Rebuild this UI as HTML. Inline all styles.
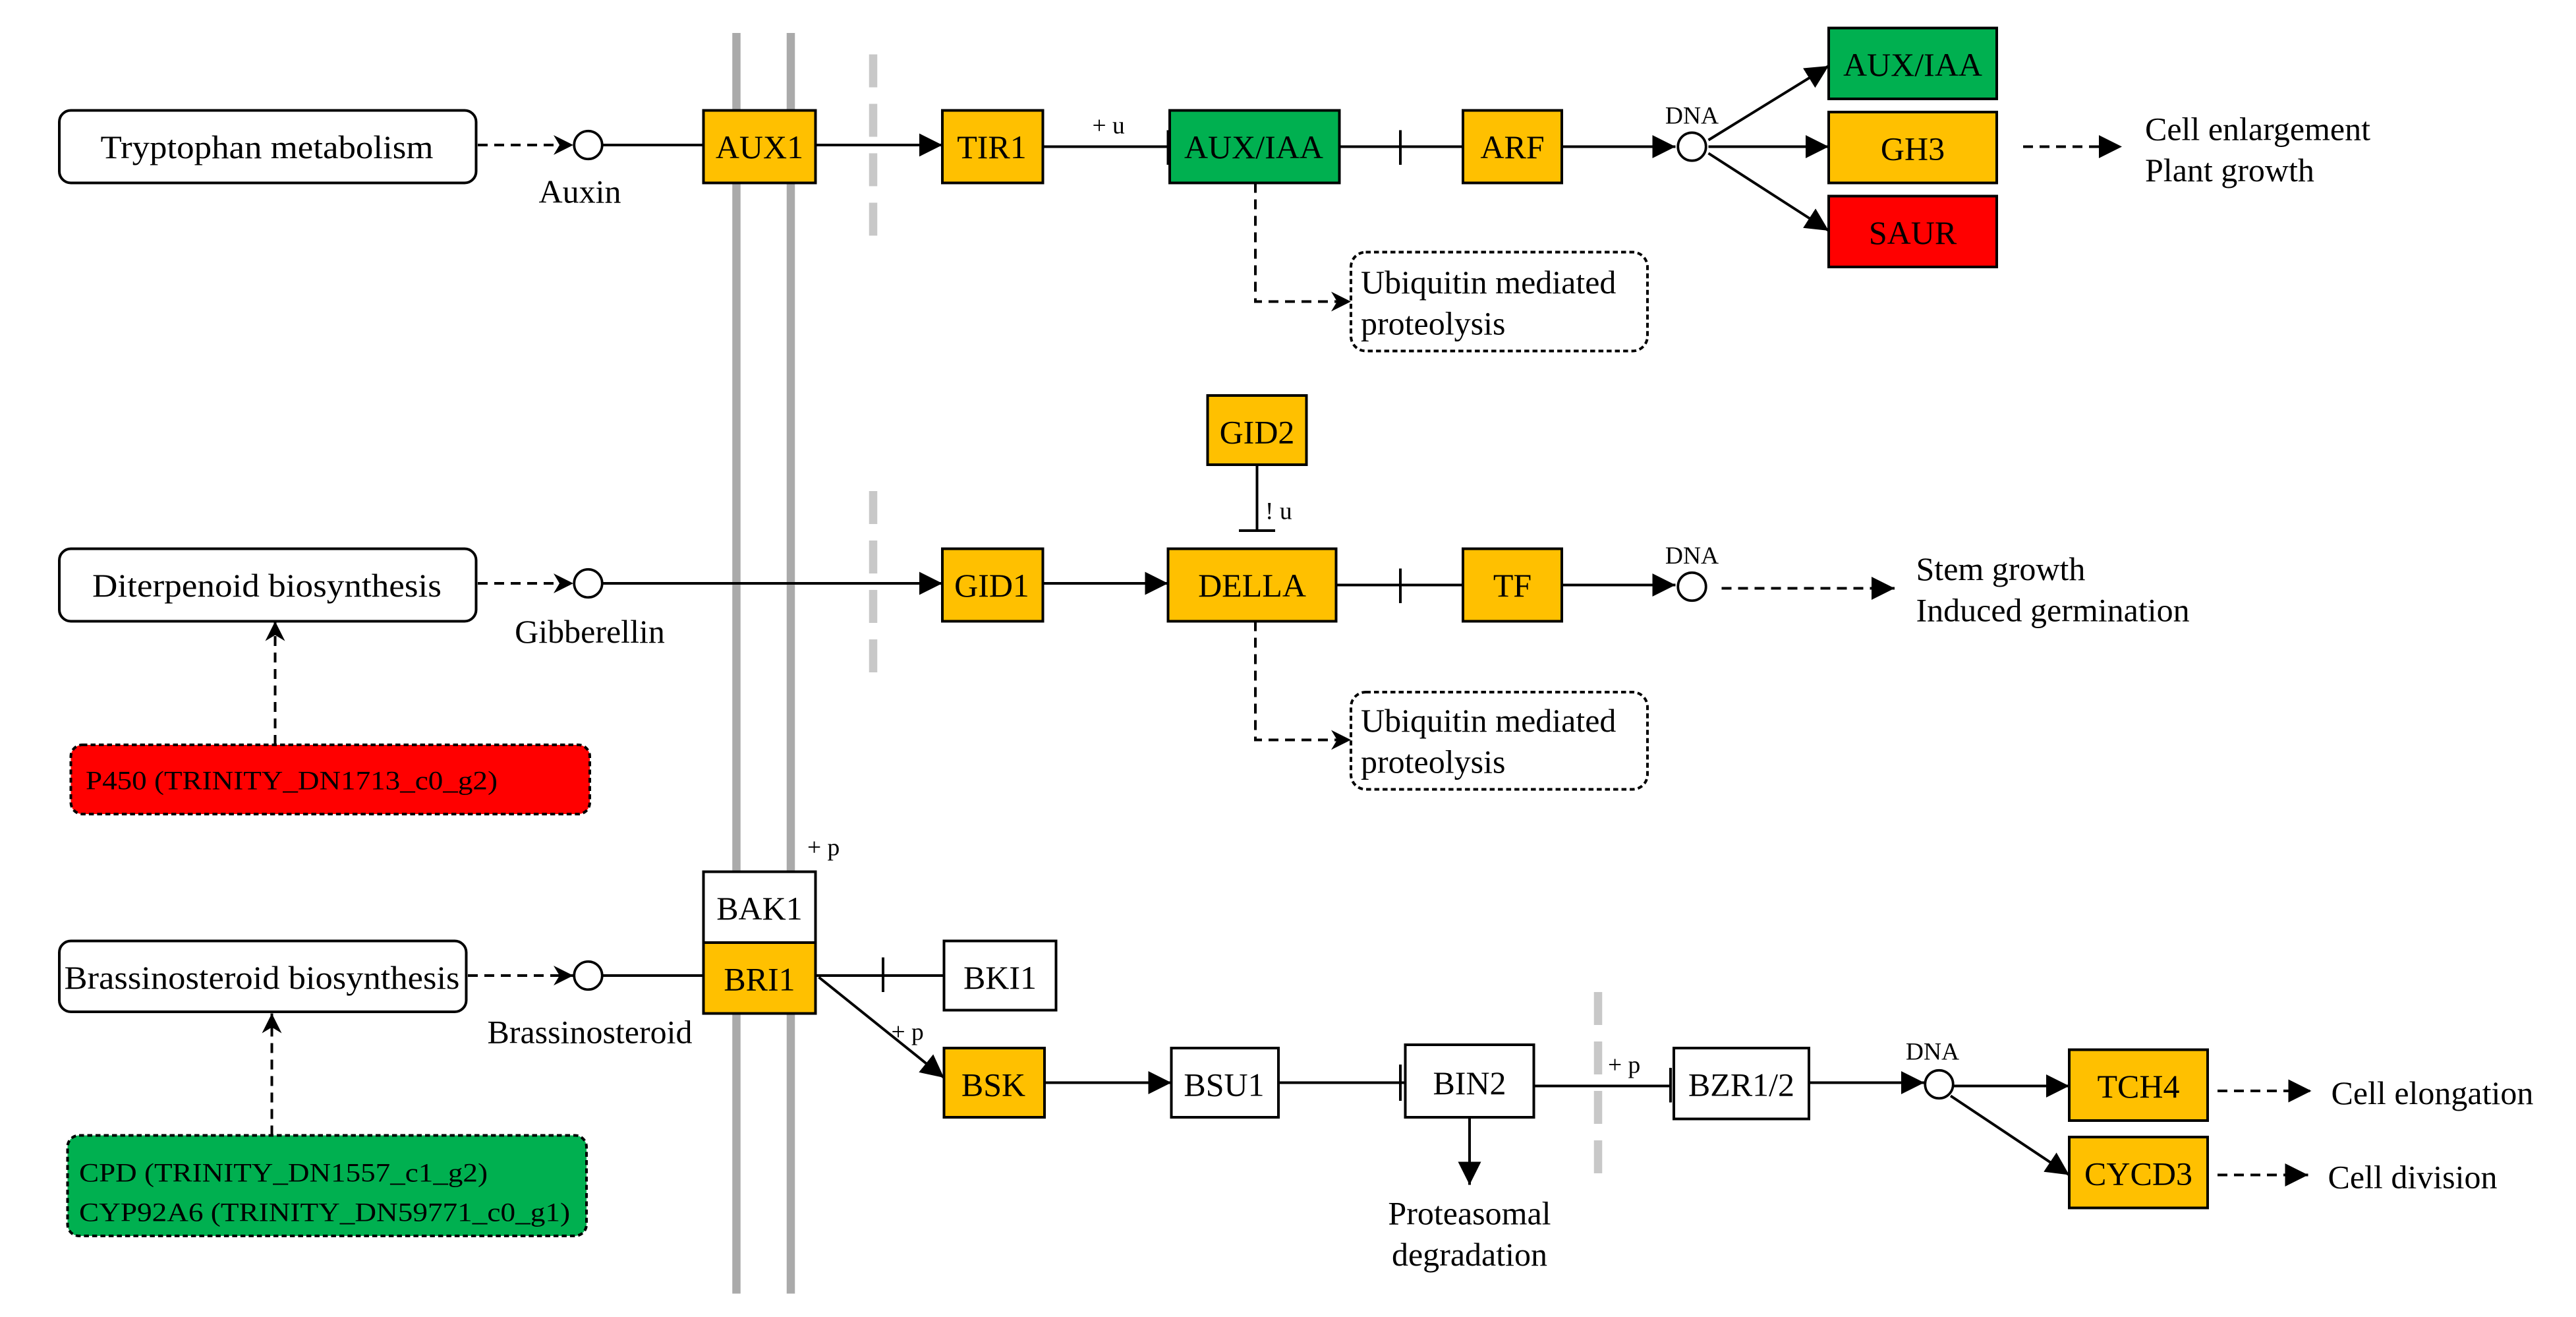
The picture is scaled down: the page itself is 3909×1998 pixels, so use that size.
<!DOCTYPE html>
<html><head><meta charset="utf-8"><style>html,body{margin:0;padding:0;background:#fff}svg{display:block}svg text{font-family:"Liberation Serif","Times New Roman",serif}</style></head>
<body>
<svg xmlns="http://www.w3.org/2000/svg" width="3909" height="1998" viewBox="0 0 1563.6 799.2" style="font-family:'Liberation Serif',serif">
<defs>
<marker id="a" viewBox="0 0 10 10" refX="10" refY="5" markerWidth="7" markerHeight="7" markerUnits="userSpaceOnUse" orient="auto"><path d="M0,0 L10,5 L0,10 z" fill="#000"/></marker>
<marker id="b" viewBox="0 0 10 10" refX="10" refY="5" markerWidth="14" markerHeight="14" markerUnits="userSpaceOnUse" orient="auto"><path d="M0,0 L10,5 L0,10 z" fill="#000"/></marker>
<marker id="o" viewBox="0 0 10 10" refX="10" refY="5" markerWidth="12" markerHeight="12" markerUnits="userSpaceOnUse" orient="auto"><path d="M0,0 L10,5 L0,10 L3,5 z" fill="#000"/></marker>
</defs>
<rect width="1563.6" height="799.2" fill="#fff"/>
<line x1="447" y1="20" x2="447" y2="785" stroke="#aaa" stroke-width="5"/>
<line x1="480" y1="20" x2="480" y2="785" stroke="#aaa" stroke-width="5"/>
<g stroke="#c8c8c8" stroke-width="5" stroke-dasharray="20,10">
<line x1="530" y1="33" x2="530" y2="145"/>
<line x1="530" y1="298" x2="530" y2="410"/>
<line x1="970" y1="602" x2="970" y2="715"/>
</g>
<g stroke="#000" stroke-width="1.6" fill="none">
<line x1="290" y1="88" x2="348" y2="88" stroke-dasharray="6,4" marker-end="url(#o)"/>
<line x1="366" y1="88" x2="427" y2="88"/>
<line x1="495" y1="88" x2="572" y2="88" marker-end="url(#b)"/>
<line x1="633" y1="89" x2="709" y2="89"/>
<line x1="709" y1="79" x2="709" y2="100"/>
<line x1="813" y1="89" x2="888" y2="89"/>
<line x1="850" y1="79" x2="850" y2="100"/>
<line x1="948" y1="89" x2="1017" y2="89" marker-end="url(#b)"/>
<line x1="1037" y1="85" x2="1110" y2="40" marker-end="url(#b)"/>
<line x1="1037" y1="89" x2="1110" y2="89" marker-end="url(#b)"/>
<line x1="1037" y1="93" x2="1110" y2="140" marker-end="url(#b)"/>
<line x1="1228" y1="89" x2="1288" y2="89" stroke-dasharray="6,4" marker-end="url(#b)"/>
<polyline points="762,111 762,183 820,183" stroke-dasharray="6,4" marker-end="url(#o)"/>
<line x1="290" y1="354" x2="348" y2="354" stroke-dasharray="6,4" marker-end="url(#o)"/>
<line x1="366" y1="354" x2="572" y2="354" marker-end="url(#b)"/>
<line x1="633" y1="354" x2="709" y2="354" marker-end="url(#b)"/>
<line x1="763" y1="282" x2="763" y2="322"/>
<line x1="752" y1="322" x2="774" y2="322"/>
<line x1="811" y1="355" x2="888" y2="355"/>
<line x1="850" y1="345" x2="850" y2="366"/>
<line x1="948" y1="355" x2="1017" y2="355" marker-end="url(#b)"/>
<line x1="1045" y1="357" x2="1150" y2="357" stroke-dasharray="6,4" marker-end="url(#b)"/>
<polyline points="762,377 762,449 820,449" stroke-dasharray="6,4" marker-end="url(#o)"/>
<line x1="167" y1="452" x2="167" y2="377" stroke-dasharray="6,4" marker-end="url(#o)"/>
<line x1="284" y1="592" x2="348" y2="592" stroke-dasharray="6,4" marker-end="url(#o)"/>
<line x1="366" y1="592" x2="427" y2="592"/>
<line x1="495" y1="592" x2="573" y2="592"/>
<line x1="536" y1="581" x2="536" y2="602"/>
<line x1="497" y1="593" x2="573" y2="654" marker-end="url(#b)"/>
<line x1="634" y1="657" x2="711" y2="657" marker-end="url(#b)"/>
<line x1="776" y1="657" x2="853" y2="657"/>
<line x1="850" y1="646" x2="850" y2="668"/>
<line x1="892" y1="678" x2="892" y2="719" marker-end="url(#b)"/>
<line x1="931" y1="659" x2="1014" y2="659"/>
<line x1="1014" y1="648" x2="1014" y2="669"/>
<line x1="1098" y1="657" x2="1168" y2="657" marker-end="url(#b)"/>
<line x1="1186" y1="659" x2="1256" y2="659" marker-end="url(#b)"/>
<line x1="1184" y1="665" x2="1256" y2="713" marker-end="url(#b)"/>
<line x1="1346" y1="662" x2="1403" y2="662" stroke-dasharray="6,4" marker-end="url(#b)"/>
<line x1="1346" y1="713" x2="1401" y2="713" stroke-dasharray="6,4" marker-end="url(#b)"/>
<line x1="165" y1="689" x2="165" y2="615" stroke-dasharray="6,4" marker-end="url(#o)"/>
</g>
<g fill="#fff" stroke="#000" stroke-width="1.5">
<circle cx="357" cy="88" r="8.5"/><circle cx="357" cy="354" r="8.5"/><circle cx="357" cy="592" r="8.5"/>
<circle cx="1027" cy="89" r="8.5"/><circle cx="1027" cy="356" r="8.5"/><circle cx="1177" cy="658" r="8.5"/>
</g>
<g stroke="#000" stroke-width="1.6">
<rect x="36" y="67" width="253" height="44" rx="7" fill="#fff"/>
<rect x="36" y="333" width="253" height="44" rx="7" fill="#fff"/>
<rect x="36" y="571" width="247" height="43" rx="7" fill="#fff"/>
<rect x="820" y="153" width="180" height="60" rx="9" fill="#fff" stroke-dasharray="3,2"/>
<rect x="820" y="420" width="180" height="59" rx="9" fill="#fff" stroke-dasharray="3,2"/>
<rect x="43" y="452" width="315" height="42" rx="7" fill="#ff0000" stroke-dasharray="3,2"/>
<rect x="41" y="689" width="315" height="61" rx="7" fill="#00b050" stroke-dasharray="3,2"/>
</g>
<g stroke="#000" stroke-width="1.6">
<rect x="427" y="67" width="68" height="44" fill="#ffc000"/>
<rect x="572" y="67" width="61" height="44" fill="#ffc000"/>
<rect x="710" y="67" width="103" height="44" fill="#00b050"/>
<rect x="888" y="67" width="60" height="44" fill="#ffc000"/>
<rect x="1110" y="17" width="102" height="43" fill="#00b050"/>
<rect x="1110" y="68" width="102" height="43" fill="#ffc000"/>
<rect x="1110" y="119" width="102" height="43" fill="#ff0000"/>
<rect x="733" y="240" width="60" height="42" fill="#ffc000"/>
<rect x="572" y="333" width="61" height="44" fill="#ffc000"/>
<rect x="709" y="333" width="102" height="44" fill="#ffc000"/>
<rect x="888" y="333" width="60" height="44" fill="#ffc000"/>
<rect x="427" y="529" width="68" height="43" fill="#fff"/>
<rect x="427" y="572" width="68" height="43" fill="#ffc000"/>
<rect x="573" y="571" width="68" height="42" fill="#fff"/>
<rect x="573" y="636" width="61" height="42" fill="#ffc000"/>
<rect x="711" y="636" width="65" height="42" fill="#fff"/>
<rect x="853" y="634" width="78" height="44" fill="#fff"/>
<rect x="1016" y="636" width="82" height="43" fill="#fff"/>
<rect x="1256" y="637" width="84" height="43" fill="#ffc000"/>
<rect x="1256" y="690" width="84" height="43" fill="#ffc000"/>
</g>
<g font-size="20" text-anchor="middle" fill="#000">
<text x="162" y="96" textLength="202" lengthAdjust="spacingAndGlyphs">Tryptophan metabolism</text>
<text x="162" y="362" textLength="212" lengthAdjust="spacingAndGlyphs">Diterpenoid biosynthesis</text>
<text x="159" y="600" textLength="240" lengthAdjust="spacingAndGlyphs">Brassinosteroid biosynthesis</text>
<text x="461" y="96">AUX1</text>
<text x="602" y="96">TIR1</text>
<text x="761" y="96">AUX/IAA</text>
<text x="918" y="96">ARF</text>
<text x="1161" y="46">AUX/IAA</text>
<text x="1161" y="97">GH3</text>
<text x="1161" y="148">SAUR</text>
<text x="763" y="269">GID2</text>
<text x="602" y="362">GID1</text>
<text x="760" y="362">DELLA</text>
<text x="918" y="362">TF</text>
<text x="461" y="558">BAK1</text>
<text x="461" y="601">BRI1</text>
<text x="607" y="600">BKI1</text>
<text x="603" y="665">BSK</text>
<text x="743" y="665">BSU1</text>
<text x="892" y="664">BIN2</text>
<text x="1057" y="665">BZR1/2</text>
<text x="1298" y="666">TCH4</text>
<text x="1298" y="719">CYCD3</text>
<text x="352" y="123">Auxin</text>
<text x="358" y="390">Gibberellin</text>
<text x="358" y="633">Brassinosteroid</text>
<text x="892" y="743">Proteasomal</text>
<text x="892" y="768">degradation</text>
</g>
<g font-size="15" text-anchor="middle">
<text x="1027" y="75">DNA</text>
<text x="1027" y="342">DNA</text>
<text x="1173" y="643">DNA</text>
</g>
<g font-size="15">
<text x="663" y="81">+ u</text>
<text x="768" y="315">! u</text>
<text x="490" y="519">+ p</text>
<text x="541" y="631">+ p</text>
<text x="976" y="651">+ p</text>
</g>
<g font-size="20">
<text x="826" y="178">Ubiquitin mediated</text>
<text x="826" y="203">proteolysis</text>
<text x="826" y="444">Ubiquitin mediated</text>
<text x="826" y="469">proteolysis</text>
<text x="1302" y="85">Cell enlargement</text>
<text x="1302" y="110">Plant growth</text>
<text x="1163" y="352">Stem growth</text>
<text x="1163" y="377">Induced germination</text>
<text x="1415" y="670">Cell elongation</text>
<text x="1413" y="721">Cell division</text>
</g>
<g font-size="16">
<text x="52" y="479" textLength="250" lengthAdjust="spacingAndGlyphs">P450 (TRINITY_DN1713_c0_g2)</text>
<text x="48" y="717" textLength="248" lengthAdjust="spacingAndGlyphs">CPD (TRINITY_DN1557_c1_g2)</text>
<text x="48" y="741" textLength="298" lengthAdjust="spacingAndGlyphs">CYP92A6 (TRINITY_DN59771_c0_g1)</text>
</g>
</svg>
</body></html>
